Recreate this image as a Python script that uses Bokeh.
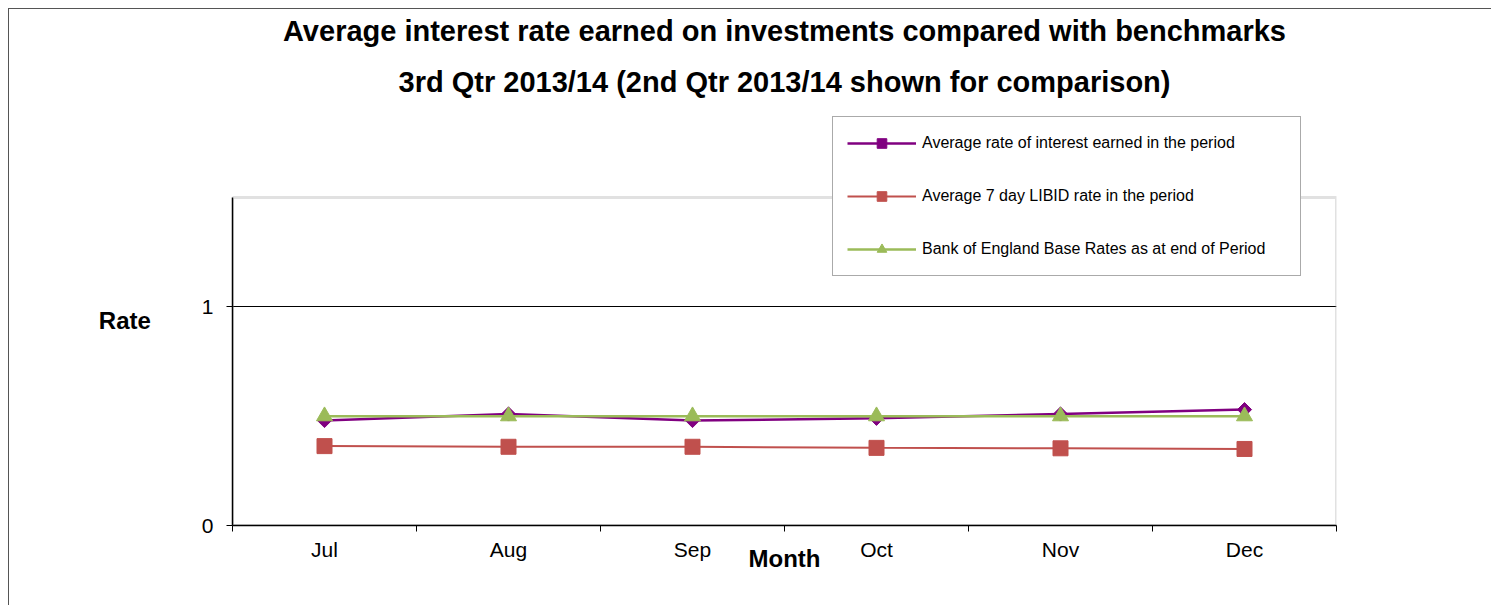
import math
from bokeh.plotting import figure
from bokeh.models import FixedTicker, Range1d, Legend, LegendItem, Title, BoxAnnotation
from bokeh.embed import file_html
from bokeh.resources import INLINE

months = ["Jul", "Aug", "Sep", "Oct", "Nov", "Dec"]
avg_earned = [0.48, 0.51, 0.48, 0.49, 0.51, 0.53]
libid_7day = [0.363, 0.360, 0.360, 0.355, 0.353, 0.350]
boe_base = [0.50, 0.50, 0.50, 0.50, 0.50, 0.50]
y_ticks = [0, 1]
y_max = 1.5

title_1 = "Average interest rate earned on investments compared with benchmarks"
title_2 = "3rd Qtr 2013/14 (2nd Qtr 2013/14 shown for comparison)"
series_names = ["Average rate of interest earned in the period",
                "Average 7 day LIBID rate in the period",
                "Bank of England Base Rates as at end of Period"]

FONT = "Liberation Sans"
n = len(months)
xs = [i + 0.5 for i in range(n)]

# frame extends above the plot area so that the legend can overlap its top border
TOP = 105
frame_h = 597 - TOP - 81
p = figure(width=1483, height=597, output_backend="svg", toolbar_location=None, title=None,
           x_range=Range1d(0, n), y_range=Range1d(0, y_max * frame_h / 328),
           min_border_left=223, min_border_right=156, min_border_top=TOP, min_border_bottom=81)
p.styles = {"margin-left": "8px", "margin-top": "8px",
            "border-left": "1px solid #555555", "border-top": "1px solid #555555"}
p.outline_line_color = None
p.background_fill_color = "white"

# plot-area border (top and right sides, grey)
p.add_layout(BoxAnnotation(left=0, right=n, bottom=0, top=y_max, fill_alpha=0,
                           line_color="#9a9a9a", line_width=3, level="underlay"))

# axes
p.xaxis.ticker = FixedTicker(ticks=xs, minor_ticks=list(range(n + 1)))
p.xaxis.major_label_overrides = {x: m for x, m in zip(xs, months)}
p.xaxis.major_tick_out = 0
p.xaxis.major_tick_in = 0
p.xaxis.minor_tick_out = 6
p.xaxis.minor_tick_in = 0
p.xaxis.minor_tick_line_color = "black"
p.xaxis.major_label_standoff = 6
p.xaxis.axis_label = "Month"
p.xaxis.axis_label_standoff = -19
p.yaxis.ticker = FixedTicker(ticks=y_ticks, minor_ticks=[])
p.yaxis.bounds = (0, y_max)
p.yaxis.major_tick_out = 6
p.yaxis.major_tick_in = 0
p.yaxis.major_label_standoff = 13
p.yaxis.axis_label = "Rate"
p.yaxis.axis_label_orientation = "horizontal"
p.yaxis.axis_label_standoff = 48
for ax in (p.xaxis[0], p.yaxis[0]):
    ax.axis_line_color = "black"
    ax.axis_line_width = 1.5
    ax.major_tick_line_color = "black"
    ax.major_label_text_font = FONT
    ax.major_label_text_font_size = "21px"
    ax.major_label_text_color = "black"
    ax.axis_label_text_font = FONT
    ax.axis_label_text_font_size = "24px"
    ax.axis_label_text_font_style = "bold"
    ax.axis_label_text_color = "black"
p.xgrid.grid_line_color = None
p.ygrid.ticker = FixedTicker(ticks=y_ticks)
p.ygrid.grid_line_color = "black"
p.ygrid.grid_line_width = 1

# series
l1 = p.line(xs, avg_earned, line_color="#800080", line_width=2.5)
m1 = p.scatter(xs, avg_earned, marker="square", angle=math.pi / 4, size=10,
               fill_color="#800080", line_color="#800080")
l2 = p.line(xs, libid_7day, line_color="#C0504D", line_width=2)
m2 = p.scatter(xs, libid_7day, marker="square", size=15, fill_color="#C0504D", line_color="#C0504D")
l3 = p.line(xs, boe_base, line_color="#9BBB59", line_width=2.5)
m3 = p.scatter(xs, boe_base, marker="triangle", size=16, fill_color="#9BBB59", line_color="#9BBB59")

legend = Legend(items=[LegendItem(label=series_names[0], renderers=[l1, m1]),
                       LegendItem(label=series_names[1], renderers=[l2, m2]),
                       LegendItem(label=series_names[2], renderers=[l3, m3])],
                location=(600, 249), margin=0, padding=14, spacing=29,
                glyph_width=69, glyph_height=24, label_height=24, label_width=364,
                label_standoff=6, label_text_font=FONT, label_text_font_size="16px",
                label_text_color="black",
                border_line_color="#555555", border_line_width=1, background_fill_alpha=1)
p.add_layout(legend, "center")

# titles (first added is nearest the plot)
p.add_layout(Title(text=title_2, align="center", offset=-11, standoff=34, text_font=FONT,
                   text_font_size="29px", text_font_style="bold", text_line_height=1.5,
                   text_color="black"), "above")
p.add_layout(Title(text=title_1, align="center", offset=-14, standoff=0, text_font=FONT,
                   text_font_size="29px", text_font_style="bold",
                   text_color="black"), "above")

open("out.html", "w").write(file_html(p, INLINE))
